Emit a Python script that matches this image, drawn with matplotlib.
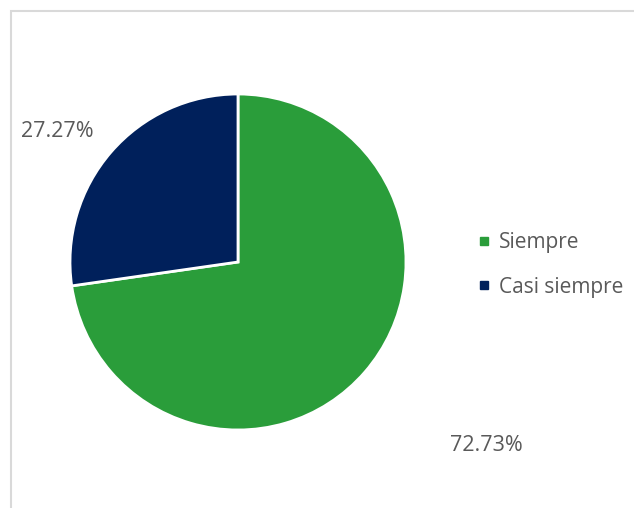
import matplotlib.pyplot as plt
from matplotlib.lines import Line2D
from matplotlib.patches import Rectangle

categories = ['Siempre', 'Casi siempre']
shares = [72.73, 27.27]
colors = ['#2a9d3a', '#00205b']
text_color = '#595959'

plt.rcParams['font.family'] = ['Open Sans', 'DejaVu Sans']

W, H = 634, 508
fig = plt.figure(figsize=(W / 100, H / 100), dpi=100)

# light frame around the chart area
fig.patches.append(Rectangle((11 / W, -0.1), 1.2, 1 - 11 / H + 0.1,
                             transform=fig.transFigure, fill=False,
                             edgecolor='#d9d9d9', linewidth=1.5))

cx, cy, r = 238, 262, 168
ax = fig.add_axes([(cx - r) / W, 1 - (cy + r) / H, 2 * r / W, 2 * r / H])
wedges, _ = ax.pie(shares, colors=colors, startangle=90, counterclock=False,
                   radius=1, wedgeprops=dict(edgecolor='white', linewidth=2))
ax.set_xlim(-1, 1)
ax.set_ylim(-1, 1)
ax.set_aspect('equal')

# outside-end percentage labels
label_pos = [(1.476, -1.09), (-1.073, 0.775)]
for val, (x, y) in zip(shares, label_pos):
    ax.text(x, y, f'{val:.2f}%', ha='center', va='center', fontsize=15.5,
            color=text_color, clip_on=False)

handles = [Line2D([], [], marker='s', linestyle='none', markersize=5.8,
                  markerfacecolor=c, markeredgecolor=c) for c in colors]
leg = fig.legend(handles, categories, loc='center left',
                 bbox_to_anchor=(478 / W, 1 - 265 / H), frameon=False,
                 fontsize=15, handlelength=0.6, handletextpad=0.42,
                 labelspacing=1.12, borderpad=0, borderaxespad=0)
for t in leg.get_texts():
    t.set_color(text_color)

fig.savefig('out.png', dpi=100)
